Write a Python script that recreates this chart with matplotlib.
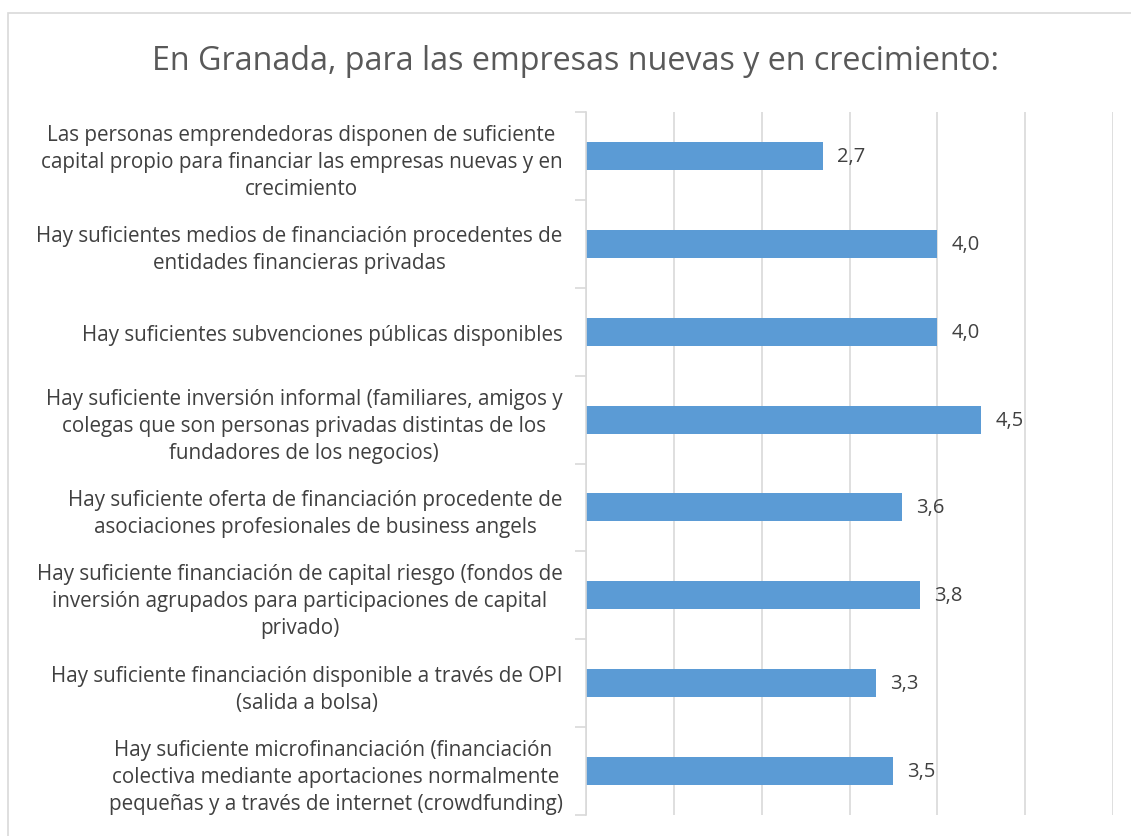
import matplotlib.pyplot as plt
from matplotlib.patches import Rectangle

labels = [
    "Las personas emprendedoras disponen de suficiente\ncapital propio para financiar las empresas nuevas y en\ncrecimiento",
    "Hay suficientes medios de financiación procedentes de\nentidades financieras privadas",
    "Hay suficientes subvenciones públicas disponibles",
    "Hay suficiente inversión informal (familiares, amigos y\ncolegas que son personas privadas distintas de los\nfundadores de los negocios)",
    "Hay suficiente oferta de financiación procedente de\nasociaciones profesionales de business angels",
    "Hay suficiente financiación de capital riesgo (fondos de\ninversión agrupados para participaciones de capital\nprivado)",
    "Hay suficiente financiación disponible a través de OPI\n(salida a bolsa)",
    "Hay suficiente microfinanciación (financiación \ncolectiva mediante aportaciones normalmente\npequeñas y a través de internet (crowdfunding)",
]
values = [2.7, 4.0, 4.0, 4.5, 3.6, 3.8, 3.3, 3.5]

plt.rcParams['font.family'] = ['Open Sans', 'DejaVu Sans']

fig = plt.figure(figsize=(11.31, 8.37), dpi=100)
# chart frame (cropped on right and bottom)
fig.patches.append(Rectangle((8 / 1131, -0.1), 1.2, (837 - 14) / 837 + 0.1,
                             transform=fig.transFigure, fill=False,
                             edgecolor='#d9d9d9', linewidth=1.2))

ax = fig.add_axes([586 / 1131, 21 / 837, (1113 - 586) / 1131, (816 - 113) / 837])
n = len(values)
pos = list(range(n))
ax.barh(pos, values, height=0.32, color='#5b9bd5')
ax.set_ylim(n - 0.5, -0.5)
ax.set_xlim(0, 6)

for p, v in zip(pos, values):
    ax.text(v + 0.16, p, f"{v:.1f}".replace('.', ','), va='center', ha='left',
            fontsize=14.5, color='#404040')

ax.set_xticks(range(0, 7))
ax.xaxis.grid(True, color='#d9d9d9', linewidth=1.2)
ax.set_axisbelow(True)
ax.tick_params(axis='x', length=0, labelbottom=False)

ax.set_yticks([i - 0.5 for i in range(n + 1)])
ax.set_yticklabels([])
ax.tick_params(axis='y', which='major', length=8, color='#d9d9d9', width=1.2)
ax.set_yticks(pos, minor=True)
ax.set_yticklabels(labels, minor=True, fontsize=14.9, color='#404040',
                   linespacing=1.38, multialignment='center')
ax.tick_params(axis='y', which='minor', length=0, pad=17)

for s in ['top', 'right', 'bottom']:
    ax.spines[s].set_visible(False)
ax.spines['left'].set_color('#d9d9d9')
ax.spines['left'].set_linewidth(1.2)

fig.text(576 / 1131, 1 - 62 / 837, "En Granada, para las empresas nuevas y en crecimiento:",
         ha='center', va='center', fontsize=23.2, color='#595959')

plt.savefig('out.png', dpi=100)
